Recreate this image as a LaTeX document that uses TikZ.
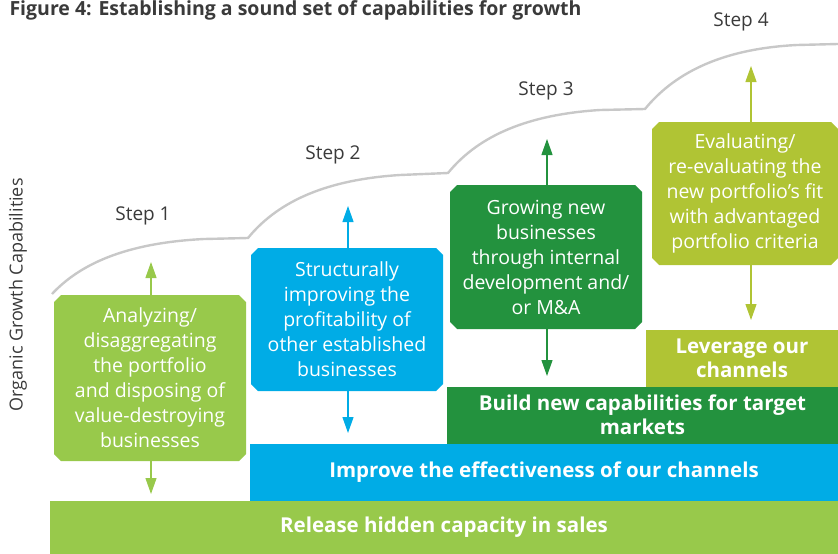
\documentclass[tikz,border=0pt]{standalone}
\usepackage{fontspec}
\setmainfont{Open Sans}
\usetikzlibrary{arrows.meta}
\definecolor{lightgreen}{HTML}{98C94B}
\definecolor{skyblue}{HTML}{00ACE6}
\definecolor{darkgreen}{HTML}{23923E}
\definecolor{olive}{HTML}{B0C434}
\definecolor{curvegray}{HTML}{C8C8C8}
\definecolor{textgray}{HTML}{3A3A3A}
\begin{document}
\begin{tikzpicture}[x=1pt, y=-1pt,
    box/.style={minimum width=192pt, inner sep=0pt, text=white, align=center, font=\fontsize{19.5}{25}\selectfont,
      path picture={\fill[#1] ([xshift=7pt]path picture bounding box.north west) -- ([xshift=-7pt]path picture bounding box.north east)
        -- ([yshift=-7pt]path picture bounding box.north east) -- ([yshift=7pt]path picture bounding box.south east)
        -- ([xshift=-7pt]path picture bounding box.south east) -- ([xshift=7pt]path picture bounding box.south west)
        -- ([yshift=7pt]path picture bounding box.south west) -- ([yshift=-7pt]path picture bounding box.north west) -- cycle;}},
    bar/.style={inner sep=0pt, text=white, align=center, font=\bfseries\fontsize{20.5}{24}\selectfont},
    updown/.style={line width=1.2pt, -{Triangle[length=16pt,width=11pt]}},
    steplabel/.style={text=textgray, font=\fontsize{19}{22}\selectfont}]

      \useasboundingbox (0, 0) rectangle (838, 554);

      \node[anchor=west, text=textgray, font=\bfseries\fontsize{19.5}{22}\selectfont] (title) at (6, 10)
        {Figure 4: Establishing a sound set of capabilities for growth};
      \node[text=textgray, font=\fontsize{18}{20}\selectfont, rotate=90] (axis) at (18, 295) {Organic Growth Capabilities};

      % the rising steps
      \draw[curvegray, line width=2.4pt] (52, 294) .. controls (79, 265) and (124, 243) .. (204, 239) -- (248, 238)
        .. controls (275, 205) and (320, 180) .. (400, 175) -- (448, 173)
        .. controls (475, 140) and (520, 115) .. (600, 110) -- (645, 109)
        .. controls (672, 76) and (717, 49) .. (797, 45) -- (838, 44);

      \node[steplabel] (step1) at (143, 216) {Step 1};
      \node[steplabel] (step2) at (333, 155) {Step 2};
      \node[steplabel] (step3) at (546, 91) {Step 3};
      \node[steplabel] (step4) at (741, 22) {Step 4};

      % bars
      \node[bar, fill=lightgreen, minimum width=788pt, minimum height=53pt] (sales) at (444, 527.5)
        {\raisebox{-3pt}{Release hidden capacity in sales}};
      \node[bar, fill=skyblue, minimum width=588pt, minimum height=57pt] (channels) at (544, 472.5)
        {Improve the effectiveness of our channels};
      \node[bar, fill=darkgreen, minimum width=391pt, minimum height=57pt] (build) at (642.5, 415)
        {Build new capabilities for target\\markets};
      \node[bar, fill=olive, minimum width=192pt, minimum height=57pt] (leverage) at (742, 358)
        {Leverage our\\channels};

      % boxes
      \node[box=lightgreen, minimum height=166pt] (analyze) at (150, 378)
        {Analyzing/\\disaggregating\\the portfolio\\and disposing of\\value-destroying\\businesses};
      \node[box=skyblue, minimum height=143pt] (improve) at (347, 319.5)
        {Structurally\\improving the\\profitability of\\other established\\businesses};
      \node[box=darkgreen, minimum height=144pt] (grow) at (546, 257)
        {Growing new\\businesses\\through internal\\development and/\\or M\&A};
      \node[box=olive, minimum width=186pt, minimum height=143pt] (evaluate) at (745, 193.5)
        {Evaluating/\\re-evaluating the\\new portfolio’s fit\\with advantaged\\portfolio criteria};

      % arrows
      \coordinate (analyzeup) at (151, 262);
      \coordinate (analyzedown) at (151, 494);
      \coordinate (improveup) at (348, 206);
      \coordinate (improvedown) at (348, 433);
      \coordinate (growup) at (547, 139);
      \coordinate (growdown) at (547, 376);
      \coordinate (evaluateup) at (751, 66);
      \coordinate (evaluatedown) at (751, 320);

      \draw[updown, lightgreen] (analyze.north -| analyzeup) -- (analyzeup);
      \draw[updown, lightgreen] (analyze.south -| analyzedown) -- (analyzedown);
      \draw[updown, skyblue] (improve.north -| improveup) -- (improveup);
      \draw[updown, skyblue] (improve.south -| improvedown) -- (improvedown);
      \draw[updown, darkgreen] (grow.north -| growup) -- (growup);
      \draw[updown, darkgreen] (grow.south -| growdown) -- (growdown);
      \draw[updown, olive] (evaluate.north -| evaluateup) -- (evaluateup);
      \draw[updown, olive] (evaluate.south -| evaluatedown) -- (evaluatedown);

    \end{tikzpicture}
\end{document}
